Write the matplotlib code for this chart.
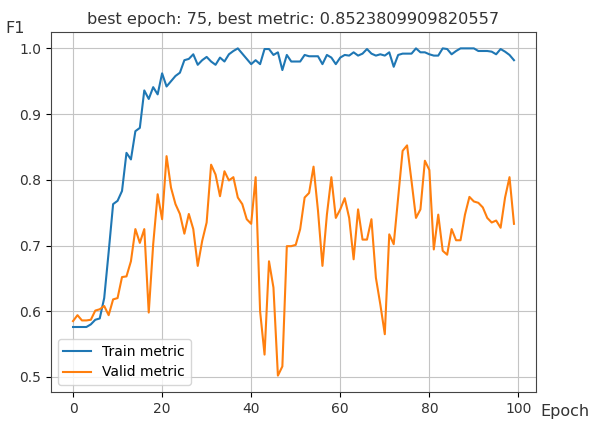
import matplotlib
matplotlib.use("Agg")
import matplotlib.pyplot as plt

# train / valid F1 per epoch
train_metric = [0.576, 0.576, 0.576, 0.576, 0.580, 0.587, 0.589, 0.620, 0.690, 0.763,
                0.768, 0.783, 0.841, 0.831, 0.874, 0.879, 0.936, 0.923, 0.941, 0.930,
                0.962, 0.942, 0.950, 0.958, 0.963, 0.982, 0.984, 0.991, 0.975, 0.982,
                0.987, 0.980, 0.975, 0.986, 0.980, 0.991, 0.996, 1.000, 0.992, 0.984,
                0.976, 0.982, 0.976, 0.999, 0.999, 0.990, 0.994, 0.967, 0.990, 0.980,
                0.980, 0.980, 0.990, 0.988, 0.988, 0.988, 0.976, 0.990, 0.986, 0.976,
                0.986, 0.990, 0.989, 0.994, 0.989, 0.992, 0.999, 0.992, 0.989, 0.991,
                0.989, 0.994, 0.972, 0.990, 0.992, 0.992, 0.992, 1.000, 0.994, 0.994,
                0.991, 0.989, 0.989, 1.000, 0.999, 0.991, 0.996, 1.000, 1.000, 1.000,
                1.000, 0.996, 0.996, 0.996, 0.995, 0.991, 0.999, 0.995, 0.990, 0.982]

valid_metric = [0.585, 0.594, 0.586, 0.586, 0.587, 0.601, 0.603, 0.608, 0.594, 0.618,
                0.620, 0.652, 0.653, 0.676, 0.725, 0.704, 0.725, 0.598, 0.702, 0.778,
                0.740, 0.836, 0.788, 0.763, 0.748, 0.718, 0.748, 0.725, 0.669, 0.707,
                0.735, 0.823, 0.808, 0.775, 0.813, 0.799, 0.804, 0.773, 0.763, 0.740,
                0.733, 0.804, 0.600, 0.534, 0.676, 0.636, 0.502, 0.516, 0.699, 0.699,
                0.701, 0.725, 0.773, 0.780, 0.820, 0.753, 0.669, 0.747, 0.804, 0.742,
                0.755, 0.772, 0.742, 0.679, 0.755, 0.709, 0.709, 0.740, 0.651, 0.610,
                0.565, 0.717, 0.702, 0.773, 0.844, 0.8523809909820557, 0.798, 0.742, 0.755, 0.829,
                0.815, 0.694, 0.747, 0.692, 0.686, 0.725, 0.708, 0.708, 0.747, 0.774,
                0.767, 0.765, 0.758, 0.742, 0.735, 0.738, 0.727, 0.773, 0.804, 0.733]

epochs = list(range(len(train_metric)))
best_epoch = 75
best_metric = 0.8523809909820557

fig = plt.figure(figsize=(5.9, 4.24), dpi=100)
ax = fig.add_axes([0.0864, 0.0755, 0.8221, 0.849])

ax.plot(epochs, train_metric, label="Train metric")
ax.plot(epochs, valid_metric, label="Valid metric")
ax.grid(True, color="#c4c4c4")
ax.set_title("best epoch: %d, best metric: %s" % (best_epoch, best_metric), fontsize=11.6, color="#333333")
ax.set_xticks([0, 20, 40, 60, 80, 100])
ax.set_yticks([0.5, 0.6, 0.7, 0.8, 0.9, 1.0])
ax.tick_params(labelsize=10, labelcolor="#333333")
for s in ax.spines.values():
    s.set_color("#444444")
ax.legend(loc="lower left", fontsize=10)

ax.text(-0.073, 1.011, "F1", transform=ax.transAxes, ha="center", va="center", fontsize=11.5, color="#333333")
ax.text(1.06, -0.053, "Epoch", transform=ax.transAxes, ha="center", va="center", fontsize=11.5, color="#333333")

fig.savefig("out.png", dpi=100)
